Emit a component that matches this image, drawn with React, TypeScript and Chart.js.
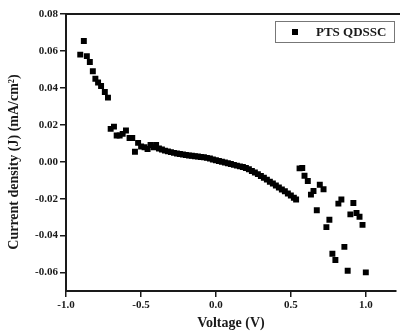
import React, { useEffect, useRef } from "react";
import { Chart, registerables } from "chart.js";

Chart.register(...registerables);

// Voltage (V)
const voltage: number[] = [
  -0.905, -0.881, -0.861, -0.841, -0.821, -0.804, -0.786, -0.766, -0.741, -0.72,
  -0.702, -0.68, -0.662, -0.642, -0.622, -0.6, -0.576, -0.558, -0.54, -0.519,
  -0.499, -0.476, -0.456, -0.436, -0.416, -0.399,
  -0.38, -0.36, -0.34, -0.32, -0.3, -0.28, -0.26, -0.24, -0.22, -0.2,
  -0.18, -0.16, -0.14, -0.12, -0.1, -0.08, -0.06, -0.04, -0.02, 0.0,
  0.02, 0.04, 0.06, 0.08, 0.1, 0.12, 0.14, 0.16, 0.18, 0.2,
  0.22, 0.24, 0.26, 0.28, 0.3, 0.32, 0.34, 0.36, 0.38, 0.4,
  0.42, 0.44, 0.46, 0.48, 0.5, 0.52, 0.535,
  0.558, 0.576, 0.591, 0.613, 0.634, 0.651, 0.673, 0.693, 0.718, 0.737,
  0.757, 0.777, 0.797, 0.817, 0.837, 0.857, 0.879, 0.897, 0.917, 0.938,
  0.958, 0.978, 1.0,
];

// Current density (J) (mA/cm²)
const current: number[] = [
  0.058, 0.0654, 0.0572, 0.054, 0.049, 0.0449, 0.0429, 0.041, 0.0378, 0.0347,
  0.0178, 0.019, 0.0142, 0.0142, 0.0151, 0.0169, 0.0129, 0.0129, 0.0054, 0.0102,
  0.0083, 0.0078, 0.0069, 0.0091, 0.0078, 0.0091,
  0.0072, 0.0066, 0.006, 0.0056, 0.0052, 0.0048, 0.0045, 0.0042, 0.0039, 0.0036,
  0.0034, 0.0032, 0.003, 0.0028, 0.0026, 0.0024, 0.0021, 0.0017, 0.0012, 0.0008,
  0.0004, 0.0, -0.0004, -0.0008, -0.0012, -0.0017, -0.0021, -0.0025, -0.0029, -0.0034,
  -0.0041, -0.005, -0.0058, -0.0067, -0.0077, -0.0087, -0.0097, -0.0108, -0.0118, -0.0129,
  -0.014, -0.015, -0.016, -0.0172, -0.0183, -0.0195, -0.0205,
  -0.0036, -0.0034, -0.0076, -0.0104, -0.0178, -0.0158, -0.0263, -0.0125, -0.0149, -0.0354,
  -0.0314, -0.0498, -0.0532, -0.0227, -0.0205, -0.0461, -0.059, -0.0285, -0.0223, -0.0278,
  -0.0298, -0.0342, -0.0599,
];

const xTicks: number[] = [-1.0, -0.5, 0.0, 0.5, 1.0];
const yTicks: number[] = [-0.06, -0.04, -0.02, 0.0, 0.02, 0.04, 0.06, 0.08];
const seriesLabel = "PTS QDSSC";
const xTitle = "Voltage (V)";
const yTitle = "Current density (J) (mA/cm²)";

const FONT = "'Liberation Serif', 'Times New Roman', serif";
const INK = "#1a1a1a";

const framePlugin = {
  id: "frameAndLegend",
  afterDraw(chart: any) {
    const { ctx, chartArea } = chart;
    ctx.save();
    // top frame line
    ctx.strokeStyle = INK;
    ctx.lineWidth = 2;
    ctx.beginPath();
    ctx.moveTo(chartArea.left - 1, chartArea.top);
    ctx.lineTo(chart.width, chartArea.top);
    ctx.stroke();
    // legend box
    const bx = 275, by = 21, bw = 119, bh = 21;
    ctx.strokeStyle = "#777";
    ctx.lineWidth = 1;
    ctx.strokeRect(bx + 0.5, by + 0.5, bw, bh);
    ctx.fillStyle = "#000";
    ctx.fillRect(292, by + bh / 2 - 2.5, 6, 6);
    ctx.font = `bold 13px ${FONT}`;
    ctx.fillStyle = INK;
    ctx.textBaseline = "middle";
    ctx.textAlign = "left";
    ctx.fillText(seriesLabel, 316, by + bh / 2 + 1);
    ctx.restore();
  },
};

// Draws the y-axis title centred slightly below the plot-area centre, as in the reference
const yTitlePlugin = {
  id: "yTitle",
  afterDraw(chart: any) {
    const { ctx } = chart;
    ctx.save();
    ctx.translate(14, 162);
    ctx.rotate(-Math.PI / 2);
    ctx.font = `bold 14px ${FONT}`;
    ctx.fillStyle = INK;
    ctx.textAlign = "center";
    ctx.textBaseline = "middle";
    ctx.fillText(yTitle, 0, 0);
    ctx.restore();
  },
};

export default function App() {
  const ref = useRef<HTMLCanvasElement | null>(null);
  useEffect(() => {
    if (!ref.current) return;
    const points = voltage.map((v, i) => ({ x: v, y: current[i] }));
    const chart = new Chart(ref.current, {
      type: "scatter",
      data: {
        datasets: [
          {
            label: seriesLabel,
            data: points,
            pointStyle: "rect",
            pointRadius: 4.2,
            pointHoverRadius: 4.2,
            backgroundColor: "#000",
            borderColor: "#000",
            borderWidth: 0,
          },
        ],
      },
      options: {
        animation: false,
        responsive: false,
        devicePixelRatio: 1,
        layout: { padding: { top: 14, right: 2, left: 0, bottom: 0 } },
        plugins: {
          legend: { display: false },
          tooltip: { enabled: false },
        },
        scales: {
          x: {
            type: "linear",
            min: -1.0,
            max: 1.2,
            afterBuildTicks: (scale: any) => {
              scale.ticks = xTicks.map((v) => ({ value: v }));
            },
            afterFit: (scale: any) => {
              scale.height = 45;
            },
            ticks: {
              callback: (v: any) => Number(v).toFixed(1),
              font: { family: FONT, size: 11, weight: "bold" },
              color: INK,
              padding: 2,
              maxRotation: 0,
            },
            grid: {
              display: true,
              drawOnChartArea: false,
              drawTicks: true,
              tickLength: 6,
              color: INK,
              lineWidth: 1.5,
            },
            border: { display: true, color: INK, width: 2 },
            title: {
              display: true,
              text: xTitle,
              font: { family: FONT, size: 14, weight: "bold" },
              color: INK,
              padding: { top: 0, bottom: 4 },
            },
          },
          y: {
            type: "linear",
            min: -0.07,
            max: 0.08,
            afterBuildTicks: (scale: any) => {
              scale.ticks = yTicks.map((v) => ({ value: v }));
            },
            afterFit: (scale: any) => {
              scale.width = 66;
            },
            ticks: {
              callback: (v: any) => Number(v).toFixed(2),
              font: { family: FONT, size: 11, weight: "bold" },
              color: INK,
              padding: 2,
            },
            grid: {
              display: true,
              drawOnChartArea: false,
              drawTicks: true,
              tickLength: 6,
              color: INK,
              lineWidth: 1.5,
            },
            border: { display: true, color: INK, width: 2 },
            title: { display: false, text: yTitle },
          },
        },
      },
      plugins: [framePlugin, yTitlePlugin],
    });
    return () => chart.destroy();
  }, []);
  return (
    <div style={{ position: "absolute", left: 0, top: 0, width: 400, height: 336, background: "#fff" }}>
      <canvas ref={ref} width={400} height={336} style={{ display: "block", width: 400, height: 336 }} />
    </div>
  );
}
